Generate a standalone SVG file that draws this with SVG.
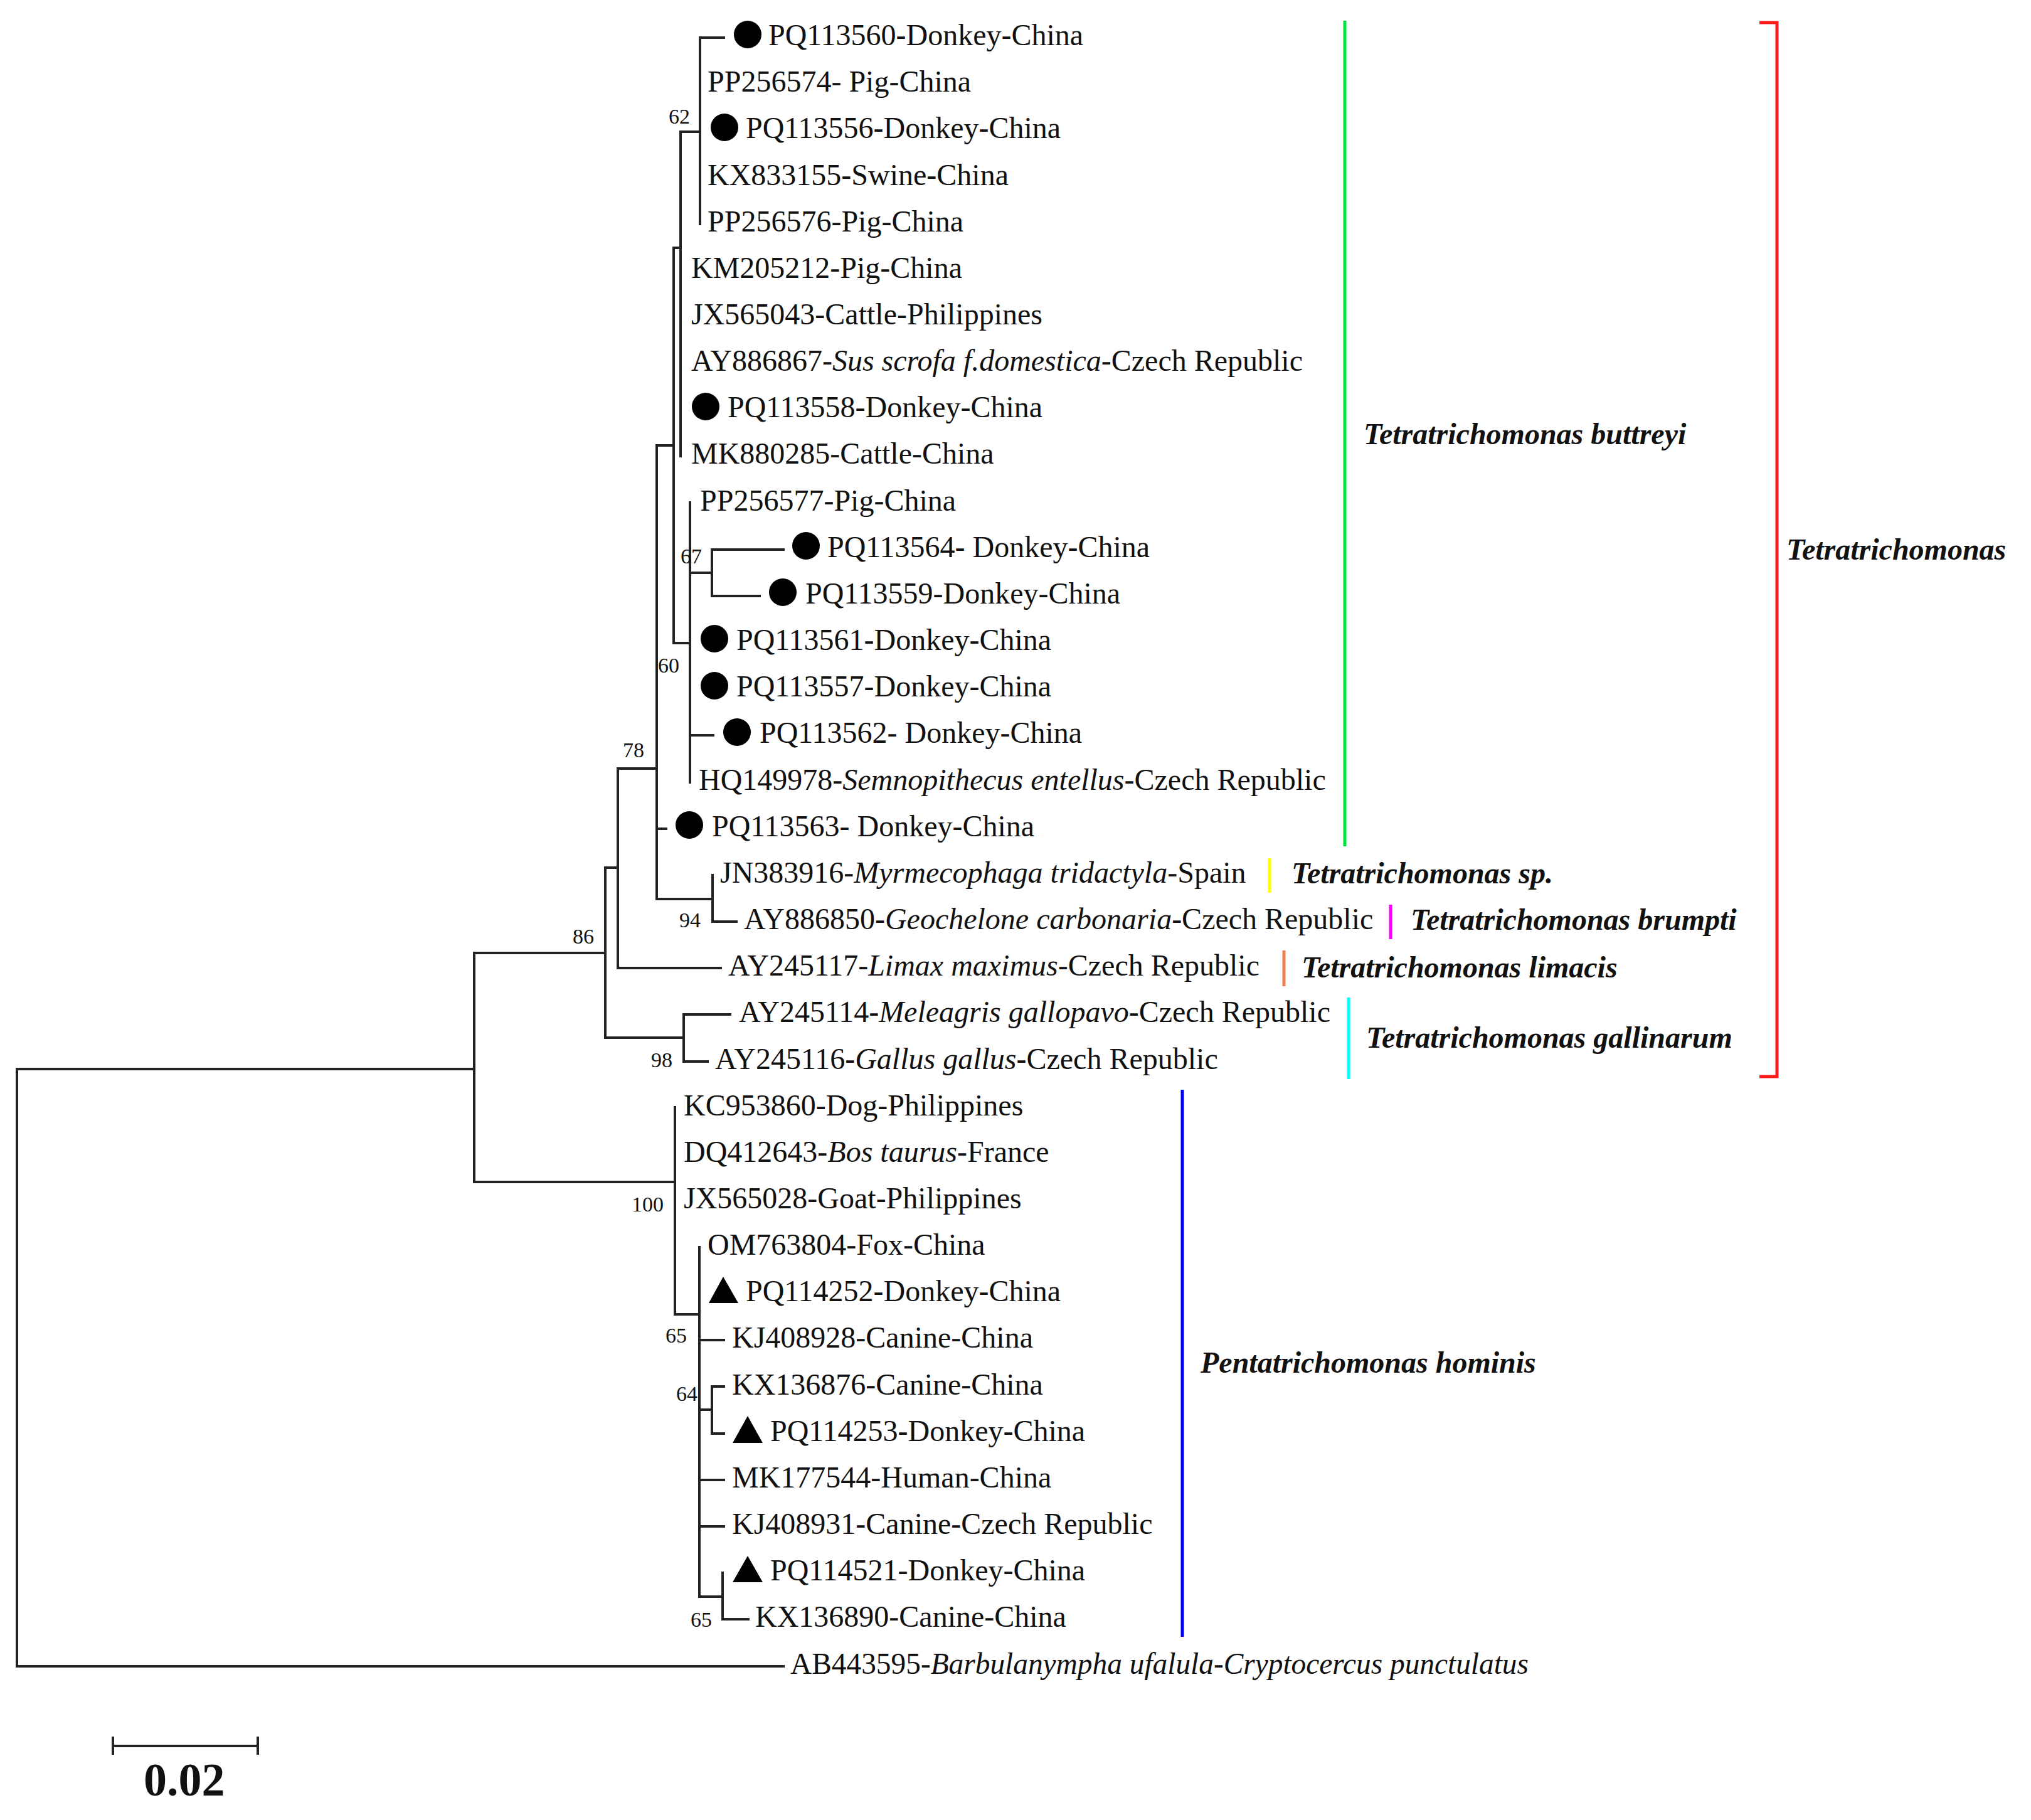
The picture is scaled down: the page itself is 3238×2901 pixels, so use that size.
<svg xmlns="http://www.w3.org/2000/svg" width="3238" height="2901" viewBox="0 0 3238 2901">
<style>
.t{font-family:"Liberation Serif","Times New Roman",serif;font-size:48px;fill:#111}
.i{font-style:italic}
.b{font-family:"Liberation Serif","Times New Roman",serif;font-size:34px;fill:#111;text-anchor:end}
.c{font-family:"Liberation Serif","Times New Roman",serif;font-size:48px;font-weight:bold;font-style:italic;fill:#111}
.br{fill:none;stroke:#222;stroke-width:4;stroke-linecap:square}
.bar{fill:none;stroke-width:5}
.dot{fill:#000}
</style>
<rect width="3238" height="2901" fill="#fff"/>
<g id="connectors" class="br">
<path d="M1116,60V357M1116,60H1154M1085,210H1116"/>
<path d="M1085,210V727M1074,395H1085"/>
<path d="M1074,395V1025M1047,710H1074"/>
<path d="M1100,801V1247M1074,1025H1100"/>
<path d="M1135,876V950M1100,913H1135M1135,876H1249M1135,950H1211"/>
<path d="M1100,1172H1137"/>
<path d="M1047,710V1433M1047,1321H1062"/>
<path d="M1136,1395V1469M1047,1433H1136M1136,1469H1174"/>
<path d="M985,1225V1543M985,1225H1047M985,1543H1149"/>
<path d="M965,1383V1654M965,1383H985"/>
<path d="M1090,1617V1692M965,1654H1090M1090,1617H1164M1090,1692H1128"/>
<path d="M756,1519V1884M756,1519H965"/>
<path d="M27,1704V2656M27,1704H756M27,2656H1249"/>
<path d="M1076,1765V2095M756,1884H1076"/>
<path d="M1115,1988V2545M1076,2095H1115M1115,2136H1154M1115,2359H1154M1115,2433H1154"/>
<path d="M1135,2210V2285M1115,2247H1135M1135,2210H1154M1135,2285H1154"/>
<path d="M1152,2507V2581M1115,2545H1152M1152,2581H1193"/>
</g>
<g id="markers">
<circle class="dot" cx="1192" cy="55" r="22"/>
<circle class="dot" cx="1155" cy="203" r="22"/>
<circle class="dot" cx="1125" cy="648" r="22"/>
<circle class="dot" cx="1285" cy="870" r="22"/>
<circle class="dot" cx="1248" cy="944" r="22"/>
<circle class="dot" cx="1139" cy="1018" r="22"/>
<circle class="dot" cx="1139" cy="1093" r="22"/>
<circle class="dot" cx="1175" cy="1167" r="22"/>
<circle class="dot" cx="1099" cy="1315" r="22"/>
<polygon class="dot" points="1153,2035 1130,2077 1177,2077"/>
<polygon class="dot" points="1192,2257 1168,2300 1216,2300"/>
<polygon class="dot" points="1192,2480 1168,2522 1216,2522"/>
</g>
<g id="leaves">
<text class="t" x="1225" y="72">PQ113560-Donkey-China</text>
<text class="t" x="1128" y="146">PP256574- Pig-China</text>
<text class="t" x="1189" y="220">PQ113556-Donkey-China</text>
<text class="t" x="1128" y="295">KX833155-Swine-China</text>
<text class="t" x="1128" y="369">PP256576-Pig-China</text>
<text class="t" x="1102" y="443">KM205212-Pig-China</text>
<text class="t" x="1102" y="517">JX565043-Cattle-Philippines</text>
<text class="t" x="1102" y="591">AY886867-<tspan class="i">Sus scrofa f.domestica</tspan>-Czech Republic</text>
<text class="t" x="1160" y="665">PQ113558-Donkey-China</text>
<text class="t" x="1102" y="739">MK880285-Cattle-China</text>
<text class="t" x="1116" y="814">PP256577-Pig-China</text>
<text class="t" x="1319" y="888">PQ113564- Donkey-China</text>
<text class="t" x="1284" y="962">PQ113559-Donkey-China</text>
<text class="t" x="1174" y="1036">PQ113561-Donkey-China</text>
<text class="t" x="1174" y="1110">PQ113557-Donkey-China</text>
<text class="t" x="1211" y="1184">PQ113562- Donkey-China</text>
<text class="t" x="1114" y="1259">HQ149978-<tspan class="i">Semnopithecus entellus</tspan>-Czech Republic</text>
<text class="t" x="1135" y="1333">PQ113563- Donkey-China</text>
<text class="t" x="1148" y="1407">JN383916-<tspan class="i">Myrmecophaga tridactyla</tspan>-Spain</text>
<text class="t" x="1186" y="1481">AY886850-<tspan class="i">Geochelone carbonaria</tspan>-Czech Republic</text>
<text class="t" x="1161" y="1555">AY245117-<tspan class="i">Limax maximus</tspan>-Czech Republic</text>
<text class="t" x="1178" y="1629">AY245114-<tspan class="i">Meleagris gallopavo</tspan>-Czech Republic</text>
<text class="t" x="1140" y="1704">AY245116-<tspan class="i">Gallus gallus</tspan>-Czech Republic</text>
<text class="t" x="1090" y="1778">KC953860-Dog-Philippines</text>
<text class="t" x="1090" y="1852">DQ412643-<tspan class="i">Bos taurus</tspan>-France</text>
<text class="t" x="1090" y="1926">JX565028-Goat-Philippines</text>
<text class="t" x="1128" y="2000">OM763804-Fox-China</text>
<text class="t" x="1189" y="2074">PQ114252-Donkey-China</text>
<text class="t" x="1167" y="2148">KJ408928-Canine-China</text>
<text class="t" x="1167" y="2223">KX136876-Canine-China</text>
<text class="t" x="1228" y="2297">PQ114253-Donkey-China</text>
<text class="t" x="1167" y="2371">MK177544-Human-China</text>
<text class="t" x="1167" y="2445">KJ408931-Canine-Czech Republic</text>
<text class="t" x="1228" y="2519">PQ114521-Donkey-China</text>
<text class="t" x="1204" y="2593">KX136890-Canine-China</text>
<text class="t" x="1260" y="2668" textLength="1177" lengthAdjust="spacingAndGlyphs">AB443595-<tspan class="i">Barbulanympha ufalula-Cryptocercus punctulatus</tspan></text>
</g>
<g id="bootstrap">
<text class="b" x="1100" y="197">62</text>
<text class="b" x="1119" y="898">67</text>
<text class="b" x="1083" y="1072">60</text>
<text class="b" x="1027" y="1207">78</text>
<text class="b" x="1117" y="1478">94</text>
<text class="b" x="947" y="1504">86</text>
<text class="b" x="1072" y="1701">98</text>
<text class="b" x="1058" y="1931">100</text>
<text class="b" x="1095" y="2140">65</text>
<text class="b" x="1112" y="2233">64</text>
<text class="b" x="1135" y="2593">65</text>
</g>
<g id="clades">
<line class="bar" x1="2144" y1="33" x2="2144" y2="1349" stroke="#00e83c"/>
<text class="c" x="2174" y="708">Tetratrichomonas buttreyi</text>
<line class="bar" x1="2024" y1="1368" x2="2024" y2="1423" stroke="#ffff00"/>
<text class="c" x="2059" y="1408">Tetratrichomonas sp.</text>
<line class="bar" x1="2217" y1="1442" x2="2217" y2="1497" stroke="#ff00ff"/>
<text class="c" x="2249" y="1482">Tetratrichomonas brumpti</text>
<line class="bar" x1="2047" y1="1515" x2="2047" y2="1572" stroke="#f07f50"/>
<text class="c" x="2075" y="1558">Tetratrichomonas limacis</text>
<line class="bar" x1="2150" y1="1590" x2="2150" y2="1720" stroke="#00ffff"/>
<text class="c" x="2178" y="1670">Tetratrichomonas gallinarum</text>
<path class="bar" d="M2805,36H2833V1716H2805" stroke="#ff1a1a"/>
<text class="c" x="2848" y="892">Tetratrichomonas</text>
<line class="bar" x1="1885" y1="1737" x2="1885" y2="2609" stroke="#0000ff"/>
<text class="c" x="1914" y="2188">Pentatrichomonas hominis</text>
</g>
<g id="scale">
<path class="br" d="M180,2783H411M180,2768V2797M411,2768V2797" style="stroke-linecap:butt"/>
<text x="229" y="2862" style="font-family:'Liberation Serif','Times New Roman',serif;font-size:74px;font-weight:bold;fill:#111">0.02</text>
</g>
</svg>
